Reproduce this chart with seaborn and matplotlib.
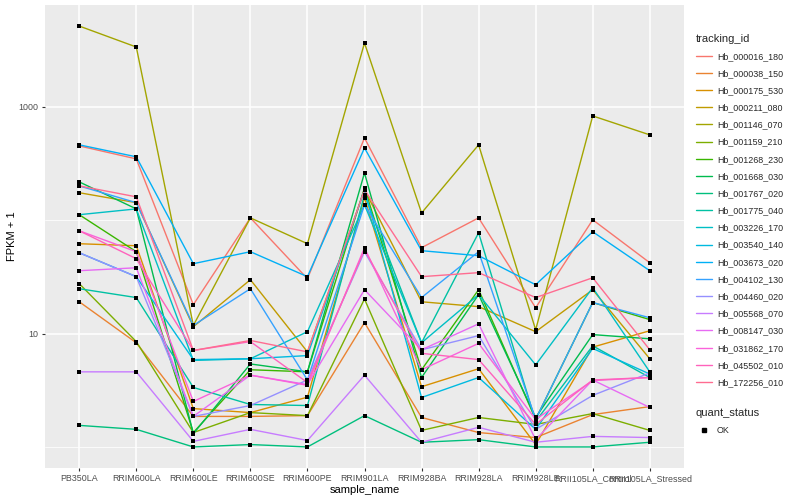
import numpy as np
import pandas as pd
import matplotlib
matplotlib.use("Agg")
import matplotlib.pyplot as plt
from matplotlib.lines import Line2D
import seaborn as sns

samples = ["PB350LA", "RRIM600LA", "RRIM600LE", "RRIM600SE", "RRIM600PE",
           "RRIM901LA", "RRIM928BA", "RRIM928LA", "RRIM928LE",
           "RRII105LA_Control", "RRII105LA_Stressed"]

tracking_ids = ["Hb_000016_180", "Hb_000038_150", "Hb_000175_530", "Hb_000211_080",
                "Hb_001146_070", "Hb_001159_210", "Hb_001268_230", "Hb_001668_030",
                "Hb_001767_020", "Hb_001775_040", "Hb_003226_170", "Hb_003540_140",
                "Hb_003673_020", "Hb_004102_130", "Hb_004460_020", "Hb_005568_070",
                "Hb_008147_030", "Hb_031862_170", "Hb_045502_010", "Hb_172256_010"]

# FPKM + 1, one list per gene, in sample order
hb_000016_180 = [453, 348, 18.0, 105, 30.5, 533, 57.3, 105, 16.9, 101, 42.2]
hb_000038_150 = [19.1, 8.3, 1.86, 1.86, 1.89, 12.5, 1.82, 1.34, 1.21, 1.93, 2.27]
hb_000175_530 = [62.1, 59.6, 2.18, 2.01, 2.75, 158, 3.4, 4.9, 1.05, 7.6, 10.6]
hb_000211_080 = [175, 143, 11.5, 29.9, 6.9, 186, 19.1, 17.3, 10.4, 24.4, 6.0]
hb_001146_070 = [5172, 3378, 11.8, 105, 62.1, 3664, 116, 463, 10.8, 833, 567]
hb_001159_210 = [27.6, 8.5, 1.34, 2.01, 1.89, 20.2, 1.40, 1.82, 1.58, 1.97, 1.40]
hb_001268_230 = [112, 52.8, 1.34, 4.8, 4.6, 193, 4.8, 24.4, 1.75, 18.8, 13.3]
hb_001668_030 = [218, 126, 1.31, 5.4, 4.6, 262, 4.1, 22.1, 1.82, 9.8, 9.0]
hb_001767_020 = [1.55, 1.43, 1.0, 1.05, 1.0, 1.89, 1.10, 1.16, 1.0, 1.0, 1.10]
hb_001775_040 = [24.9, 20.8, 3.35, 2.37, 2.32, 168, 8.3, 77.6, 1.68, 7.8, 4.1]
hb_003226_170 = [112, 126, 5.8, 6.0, 10.4, 137, 8.3, 22.1, 5.3, 25.4, 4.6]
hb_003540_140 = [51.7, 31.8, 5.9, 6.0, 6.4, 186, 2.73, 4.1, 1.43, 7.4, 4.4]
hb_003673_020 = [463, 363, 41.4, 52.8, 31.8, 435, 53.9, 48.7, 27.0, 79.2, 35.9]
hb_004102_130 = [201, 143, 11.8, 24.9, 3.9, 137, 20.8, 52.8, 1.75, 18.8, 13.8]
hb_004460_020 = [51.7, 31.8, 1.86, 2.32, 3.9, 52.8, 7.2, 9.6, 1.43, 2.85, 4.5]
hb_005568_070 = [4.6, 4.6, 1.12, 1.43, 1.14, 4.3, 1.10, 1.49, 1.10, 1.24, 1.21]
hb_008147_030 = [35.9, 38.1, 1.86, 4.3, 3.55, 24.4, 7.2, 12.2, 1.16, 3.9, 2.23]
hb_031862_170 = [80.8, 52.8, 2.52, 4.3, 3.5, 57.3, 4.8, 8.2, 1.75, 3.85, 4.1]
hb_045502_010 = [80.8, 45.8, 7.1, 8.5, 3.7, 55.0, 6.7, 5.9, 1.58, 3.9, 4.1]
hb_172256_010 = [201, 161, 7.1, 8.7, 6.9, 186, 31.8, 34.5, 20.8, 31.1, 7.2]

gene_values = [hb_000016_180, hb_000038_150, hb_000175_530, hb_000211_080,
               hb_001146_070, hb_001159_210, hb_001268_230, hb_001668_030,
               hb_001767_020, hb_001775_040, hb_003226_170, hb_003540_140,
               hb_003673_020, hb_004102_130, hb_004460_020, hb_005568_070,
               hb_008147_030, hb_031862_170, hb_045502_010, hb_172256_010]

# ggplot2 default hue palette for 20 levels
gg_colors = ["#F8766D", "#EA8331", "#D89000", "#C09B00", "#A3A500", "#7CAE00",
             "#39B600", "#00BB4E", "#00BF7D", "#00C1A3", "#00BFC4", "#00BAE0",
             "#00B0F6", "#35A2FF", "#9590FF", "#C77CFF", "#E76BF3", "#FA62DB",
             "#FF62BC", "#FF6C91"]

rows = []
for tid, vals in zip(tracking_ids, gene_values):
    for s, v in zip(samples, vals):
        rows.append({"tracking_id": tid, "sample_name": s, "fpkm1": v, "quant_status": "OK"})
df = pd.DataFrame(rows)
df["x"] = df["sample_name"].map({s: i for i, s in enumerate(samples)})

sns.set_style("darkgrid", {"axes.facecolor": "#EBEBEB", "grid.color": "white"})
plt.rcParams["font.family"] = ["Liberation Sans", "DejaVu Sans"]

fig = plt.figure(figsize=(8, 5), dpi=100)
ax = fig.add_axes([45 / 800, 1 - 468 / 500, (684 - 45) / 800, (468 - 5) / 500])
ax.set_facecolor("#EBEBEB")

palette = dict(zip(tracking_ids, gg_colors))
sns.lineplot(data=df, x="x", y="fpkm1", hue="tracking_id", palette=palette,
             linewidth=1.0, legend=False, ax=ax, sort=False, estimator=None,
             units="tracking_id")
sns.scatterplot(data=df, x="x", y="fpkm1", color="black", s=10, marker="s",
                linewidth=0, legend=False, ax=ax, zorder=5)

ax.set_yscale("log")
lo, hi = np.log10(df["fpkm1"].min()), np.log10(df["fpkm1"].max())
pad = 0.05 * (hi - lo)
ax.set_ylim(10 ** (lo - pad), 10 ** (hi + pad))
ax.set_xlim(-0.6, len(samples) - 1 + 0.6)

ax.set_yticks([10, 1000])
ax.set_yticklabels(["10", "1000"])
ax.set_yticks([1, 100], minor=True)
ax.yaxis.set_minor_formatter(matplotlib.ticker.NullFormatter())
ax.set_xticks(range(len(samples)))
ax.set_xticklabels(samples)

ax.grid(True, which="major", color="white", linewidth=1.1)
ax.grid(True, which="minor", axis="y", color="white", linewidth=0.55)
ax.tick_params(axis="both", which="major", length=2.5, width=0.8, color="#333333",
               labelsize=6.4, labelcolor="#4D4D4D", pad=2, direction="out",
               left=True, bottom=True)
ax.tick_params(axis="y", which="minor", length=0)
for sp in ax.spines.values():
    sp.set_visible(False)

ax.set_xlabel("sample_name", fontsize=8, color="black", labelpad=1)
ax.set_ylabel("FPKM + 1", fontsize=8, color="black", labelpad=1)

# legends
line_handles = [Line2D([0], [0], color=c, lw=1.0) for c in gg_colors]
leg1 = fig.legend(line_handles, tracking_ids, title="tracking_id",
                  loc="upper left", bbox_to_anchor=(692 / 800, 1 - 30 / 500),
                  frameon=False, fontsize=6.4, title_fontsize=8,
                  handlelength=1.9, handletextpad=0.5, labelspacing=0.92,
                  alignment="left", borderaxespad=0)
pt_handle = [Line2D([0], [0], color="black", marker="s", markersize=2.5, lw=0)]
leg2 = fig.legend(pt_handle, ["OK"], title="quant_status",
                  loc="upper left", bbox_to_anchor=(692 / 800, 1 - 404 / 500),
                  frameon=False, fontsize=6.4, title_fontsize=8,
                  handlelength=1.9, handletextpad=0.5, labelspacing=0.92,
                  alignment="left", borderaxespad=0)

fig.savefig("out.png", dpi=100)
